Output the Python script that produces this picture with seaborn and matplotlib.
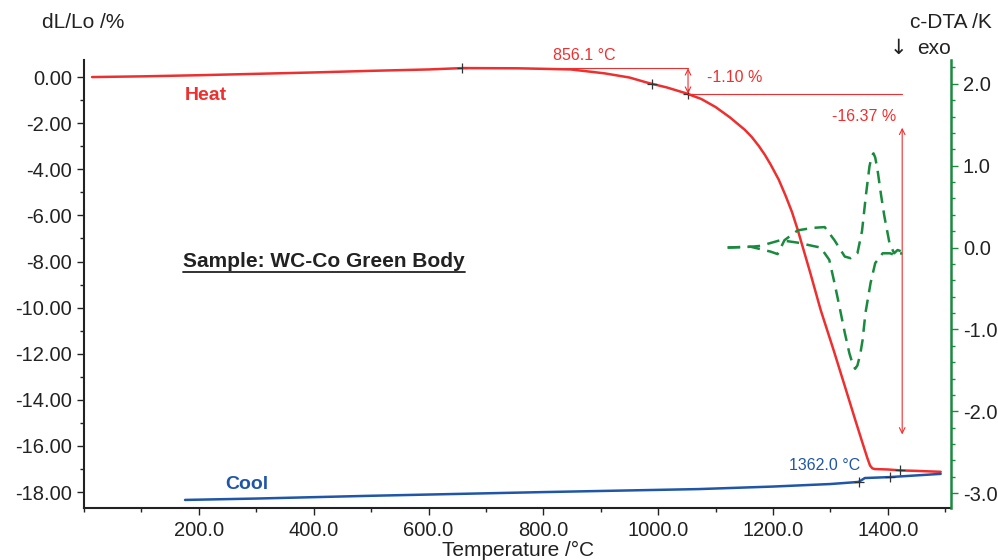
import numpy as np
import pandas as pd
import matplotlib
matplotlib.use("Agg")
import matplotlib.pyplot as plt
from matplotlib.ticker import MultipleLocator, FormatStrFormatter, FixedLocator
from matplotlib.lines import Line2D
import seaborn as sns

# --- data ---
heat_T = [14, 100, 200, 300, 400, 500, 600, 660, 756, 848, 907, 950, 982, 1015,
          1048, 1075, 1100, 1125, 1151, 1163, 1175, 1186, 1196, 1210, 1222, 1233,
          1243, 1265, 1283, 1305, 1325, 1343, 1355, 1364, 1369, 1373, 1377, 1400,
          1423, 1450, 1470, 1492]
heat_dL = [0.0, 0.03, 0.08, 0.14, 0.20, 0.27, 0.33, 0.39, 0.38, 0.33, 0.16, -0.02,
           -0.25, -0.45, -0.70, -0.95, -1.30, -1.75, -2.29, -2.6, -2.98, -3.38,
           -3.8, -4.45, -5.15, -5.85, -6.62, -8.5, -10.1, -11.8, -13.4, -14.85,
           -15.8, -16.5, -16.85, -16.97, -17.0, -17.02, -17.06, -17.08, -17.10,
           -17.12]

cool_T = [176, 300, 400, 500, 687, 800, 1070, 1200, 1300, 1349, 1360, 1403, 1492]
cool_dL = [-18.34, -18.28, -18.22, -18.16, -18.06, -18.0, -17.87, -17.76, -17.65,
           -17.56, -17.39, -17.35, -17.21]

dta_a_T = [1121, 1161, 1196, 1208, 1220, 1243, 1269, 1290, 1307, 1325, 1335, 1347,
           1355, 1362, 1368, 1372, 1375, 1378, 1382, 1388, 1394, 1403, 1411, 1417,
           1425]
dta_a = [0.0, 0.01, -0.05, -0.08, 0.09, 0.21, 0.24, 0.25, 0.09, -0.11, -0.13, -0.07,
         0.2, 0.65, 0.99, 1.12, 1.15, 1.10, 0.95, 0.65, 0.38, 0.05, -0.07, -0.03,
         -0.05]

dta_b_T = [1121, 1161, 1178, 1213, 1243, 1269, 1283, 1298, 1307, 1316, 1325, 1333,
           1339, 1343, 1347, 1352, 1356, 1361, 1370, 1378, 1391, 1404, 1411, 1425]
dta_b = [0.0, 0.01, 0.02, 0.09, 0.06, 0.02, 0.0, -0.15, -0.43, -0.73, -1.04, -1.29,
         -1.43, -1.48, -1.44, -1.3, -1.13, -0.80, -0.43, -0.19, -0.07, -0.07, -0.09,
         -0.07]

heat_marks = [659, 989, 1052, 1422]
cool_marks = [1349, 1403]

onset_T = 856.1
ref_level = 0.38
step1 = -1.10
step_total = -16.37
end_T = 1362.0

RED = "#ee2f2f"
BLUE = "#1f56a8"
GREEN = "#1a8a3e"
INK = "#222222"

sns.set_style("ticks")
plt.rcParams['font.family'] = ['Liberation Sans', 'DejaVu Sans']

fig = plt.figure(figsize=(9.98, 5.6), dpi=100)
ax = fig.add_axes([84 / 998, 52 / 560, 867 / 998, 448 / 560])
ax2 = ax.twinx()

heat = pd.DataFrame({"T": heat_T, "dL": heat_dL})
cool = pd.DataFrame({"T": cool_T, "dL": cool_dL})
sns.lineplot(data=heat, x="T", y="dL", ax=ax, color=RED, lw=1.8, sort=False)
sns.lineplot(data=cool, x="T", y="dL", ax=ax, color=BLUE, lw=1.8, sort=False)

da = pd.DataFrame({"T": dta_a_T, "v": dta_a})
db = pd.DataFrame({"T": dta_b_T, "v": dta_b})
sns.lineplot(data=da, x="T", y="v", ax=ax2, color=GREEN, lw=1.8, sort=False,
             linestyle=(0, (5, 3)))
sns.lineplot(data=db, x="T", y="v", ax=ax2, color=GREEN, lw=1.8, sort=False,
             linestyle=(0, (5, 3)))

# + markers on the curves
ax.plot(heat_marks, np.interp(heat_marks, heat_T, heat_dL), ls="none", marker="+",
        color="#333333", ms=7, mew=0.9)
ax.plot(cool_marks, np.interp(cool_marks, cool_T, cool_dL), ls="none", marker="+",
        color="#333333", ms=7, mew=0.9)

# axes limits / ticks
ax.set_xlim(0, 1510)
ax.set_ylim(-18.69, 0.74)
ax2.set_ylim(-3.18, 2.29)
ax.xaxis.set_major_locator(FixedLocator([200, 400, 600, 800, 1000, 1200, 1400]))
ax.xaxis.set_minor_locator(MultipleLocator(100))
ax.xaxis.set_major_formatter(FormatStrFormatter("%.1f"))
ax.yaxis.set_major_locator(MultipleLocator(2))
ax.yaxis.set_minor_locator(MultipleLocator(1))
ax.yaxis.set_major_formatter(FormatStrFormatter("%.2f"))
ax2.yaxis.set_major_locator(MultipleLocator(1))
ax2.yaxis.set_minor_locator(MultipleLocator(0.2))
ax2.yaxis.set_major_formatter(FormatStrFormatter("%.1f"))

for a in (ax, ax2):
    a.set_xlabel("")
    a.set_ylabel("")
    a.spines["top"].set_visible(False)
ax.spines["right"].set_visible(False)
ax2.spines["left"].set_visible(False)
ax2.spines["bottom"].set_visible(False)
ax2.spines["right"].set_color(GREEN)
ax2.spines["right"].set_linewidth(1.8)
ax.spines["left"].set_linewidth(1.5)
ax.spines["bottom"].set_linewidth(1.5)
ax.spines["left"].set_color(INK)
ax.spines["bottom"].set_color(INK)

ax.tick_params(axis="both", which="major", length=5, width=1, labelsize=14.5,
               colors=INK, direction="out")
ax.tick_params(axis="both", which="minor", length=3, width=1, colors=INK)
ax.tick_params(axis="x", pad=4)
ax2.tick_params(axis="y", which="major", length=5, width=1, labelsize=14.5,
                color=GREEN, labelcolor=INK)
ax2.tick_params(axis="y", which="minor", length=3, width=1, color=GREEN)

# annotations (red)
low1 = ref_level + step1
ax.plot([660, 1052], [ref_level, ref_level], color=RED, lw=0.8)
ax.plot([1052, 1425], [low1, low1], color=RED, lw=0.8)
ax.annotate("", xy=(1052, ref_level), xytext=(1052, low1),
            arrowprops=dict(arrowstyle="<->", color=RED, lw=0.8, shrinkA=0, shrinkB=0))
ax.annotate("", xy=(1425, -2.2), xytext=(1425, -15.5),
            arrowprops=dict(arrowstyle="<->", color=RED, lw=0.8, shrinkA=0, shrinkB=0))
ax.text(872, 0.95, f"{onset_T:.1f} °C", color=RED, fontsize=11.5, ha="center",
        va="center", clip_on=False)
ax.text(1133, 0.0, f"{step1:.2f} %", color=RED, fontsize=11.5, ha="center", va="center")
ax.text(1358, -1.73, f"{step_total:.2f} %", color=RED, fontsize=11.5, ha="center",
        va="center")
ax.text(1290, -16.83, f"{end_T:.1f} °C", color=BLUE, fontsize=11.5, ha="center",
        va="center")

ax.text(212, -0.78, "Heat", color=RED, fontsize=14, fontweight="bold", ha="center",
        va="center")
ax.text(283, -17.65, "Cool", color=BLUE, fontsize=14, fontweight="bold", ha="center",
        va="center")
sample = ax.text(418, -8.02, "Sample: WC-Co Green Body", color=INK, fontsize=15,
                 fontweight="bold", ha="center", va="center")

# axis titles
fig.text(83.5 / 998, 1 - 22 / 560, "dL/Lo /%", fontsize=15, ha="center", va="center",
         color=INK)
fig.text(992 / 998, 1 - 22 / 560, "c-DTA /K", fontsize=15, ha="right", va="center",
         color=INK)
fig.text(898 / 998, 1 - 48 / 560, "↓", fontsize=15, ha="center", va="center",
         color=INK, family=['DejaVu Sans'])
fig.text(934 / 998, 1 - 48 / 560, "exo", fontsize=15, ha="center", va="center",
         color=INK)
fig.text(518 / 998, 1 - 550 / 560, "Temperature /°C", fontsize=15, ha="center",
         va="center", color=INK)

# underline the sample label
fig.canvas.draw()
bb = sample.get_window_extent(fig.canvas.get_renderer())
W, H = fig.get_size_inches() * fig.dpi
fig.add_artist(Line2D([bb.x0 / W, bb.x1 / W], [(bb.y0 - 1) / H, (bb.y0 - 1) / H],
                      color=INK, lw=1.3))

fig.savefig("out.png", dpi=100)
